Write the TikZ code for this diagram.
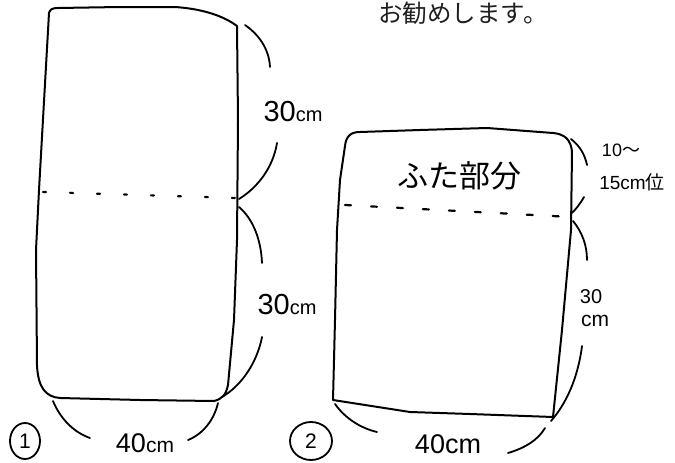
\documentclass[tikz,border=0pt]{standalone}
\usepackage{fontspec}
\setmainfont{Liberation Sans}
\newfontfamily\jpfont{Noto Sans CJK JP}
\usetikzlibrary{shapes.geometric}
\begin{document}
\begin{tikzpicture}[x=1pt,y=-1pt, line cap=round, line join=round,
  outline/.style={draw=black, line width=2pt},
  brace/.style={draw=black, line width=1.8pt},
  foldline/.style={draw=black, line width=2.2pt},
  hand/.style={inner sep=0pt, text=black},
  numcircle/.style={draw=black, line width=1.8pt, ellipse, inner sep=0pt, text=black, font=\fontsize{21}{21}\selectfont},
]
\useasboundingbox (0,0) rectangle (675,463);
\fill[white] (0,0) rectangle (675,463);

% heading text
\node[inner sep=0pt, text=black!88, font=\jpfont\fontsize{24.5}{24.5}\selectfont] (head) at (463,13) {お勧めします。};

% ---------- panel 1 ----------
\draw[outline] (49,13) .. controls (50,9) and (53,8) .. (58,8)
  -- (120,7) -- (175,7) .. controls (205,9) and (225,17) .. (237,26)
  -- (238,120) -- (237,240) -- (234,320) -- (228,385)
  .. controls (226,395) and (222,399) .. (214,401)
  -- (140,400) -- (60,398) .. controls (46,397) and (38,388) .. (37,365)
  -- (36,250) -- (39,190) -- cycle;
\draw[foldline, dash pattern=on 3pt off 24pt] (43,192) -- (236,198);

\draw[brace] (245,25) .. controls (258,34) and (269,48) .. (270,67);
\node[hand] (t1) at (293,112) {\fontsize{29}{29}\selectfont 30\fontsize{20}{20}\selectfont cm};
\draw[brace] (277,143) .. controls (273,168) and (257,188) .. (239,199);
\draw[brace] (239,207) .. controls (252,218) and (261,238) .. (262,263);
\node[hand] (t2) at (287,305) {\fontsize{29}{29}\selectfont 30\fontsize{20}{20}\selectfont cm};
\draw[brace] (262,337) .. controls (257,363) and (241,386) .. (222,397);

\draw[brace] (53,401) .. controls (60,418) and (73,432) .. (90,438);
\node[hand] (t3) at (145,443) {\fontsize{27}{27}\selectfont 40\fontsize{21}{21}\selectfont cm};
\draw[brace] (188,440) .. controls (203,434) and (214,420) .. (218,403);

\node[numcircle, minimum width=30pt, minimum height=36pt] (c1) at (25,441) {1};

% ---------- panel 2 ----------
\draw[outline] (345,146) .. controls (346,136) and (351,132) .. (360,132)
  -- (420,130) -- (487,128) -- (553,133)
  .. controls (565,134) and (571,140) .. (572,152)
  -- (571,230) -- (562,330) -- (553,417)
  -- (470,414) -- (410,412) -- (333,400)
  -- (335,320) -- (337,230) -- (340,180) -- cycle;
\draw[foldline, dash pattern=on 6pt off 20pt] (345,205) -- (571,217);
\node[hand, font=\jpfont\fontsize{31}{31}\selectfont] (lid) at (459,176) {ふた部分};

\draw[brace] (571,139) .. controls (580,146) and (585,155) .. (587,165);
\node[hand, font=\fontsize{18}{18}\selectfont] (t4) at (621,150) {10\jpfont ～};
\node[hand, font=\fontsize{19}{19}\selectfont] (t5) at (632,182) {15cm\jpfont 位};
\draw[brace] (584,197) .. controls (580,204) and (576,209) .. (572,213);
\draw[brace] (573,221) .. controls (582,232) and (587,245) .. (587,260);
\node[hand, font=\fontsize{20}{20}\selectfont] (t6) at (591,297) {30};
\node[hand, font=\fontsize{21}{21}\selectfont] (t7) at (595,321) {cm};
\draw[brace] (582,346) .. controls (578,378) and (566,404) .. (551,421);

\draw[brace] (335,404) .. controls (345,418) and (360,428) .. (377,432);
\node[hand, font=\fontsize{27}{27}\selectfont] (t8) at (448,444) {40cm};
\draw[brace] (508,453) .. controls (525,448) and (538,440) .. (545,428);

\node[numcircle, minimum width=42pt, minimum height=38pt] (c2) at (311,441) {2};
\end{tikzpicture}
\end{document}
